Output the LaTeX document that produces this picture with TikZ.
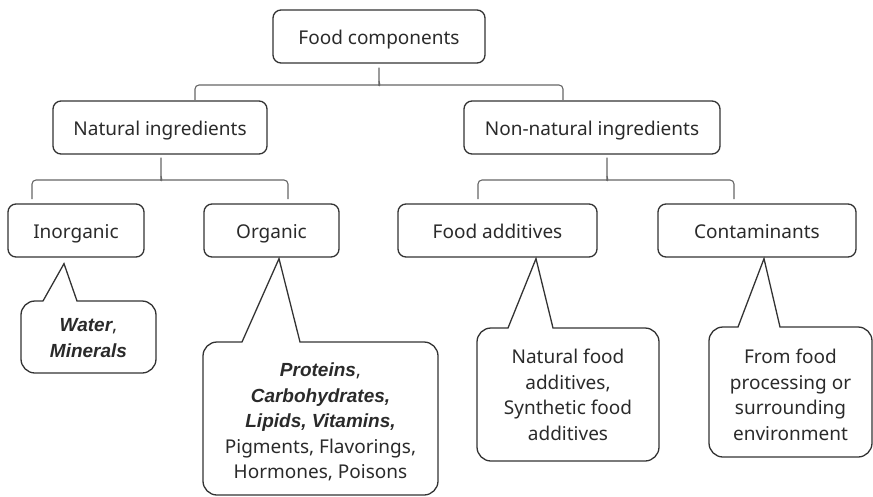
\documentclass[tikz,border=0pt]{standalone}
\usepackage{fontspec}
\setmainfont{Noto Sans}
\newfontfamily\bifont{Liberation Sans}
\usetikzlibrary{calc}
\definecolor{ln}{HTML}{333333}
\definecolor{br}{HTML}{666666}
\definecolor{tx}{HTML}{2A2A2A}
\tikzset{
  box/.style={draw=ln, line width=1.3pt, rounded corners=8pt, rectangle, inner sep=0pt,
    minimum height=53pt, text height=18pt, text depth=2pt, text=tx, font=\fontsize{19}{25.5}\selectfont},
  ctext/.style={align=center, text=tx, inner sep=0pt, font=\fontsize{19}{25.5}\selectfont},
  co/.style={draw=ln, line width=1.3pt},
  brc/.style={draw=br, line width=1.1pt, rounded corners=4pt}
}
\newcommand\bi[1]{{\bifont\bfseries\itshape #1}}
\newcommand\drawcallout[7]{%
  \draw[co] (#1,{(#2+#4)/2}) [rounded corners=14pt] -- (#1,#2) [sharp corners] -- (#5,#2) -- (#7) -- (#6,#2) [rounded corners=14pt] -- (#3,#2) -- (#3,#4) -- (#1,#4) -- cycle;}
\newcommand\drawbrace[6]{% stub top, xl, xr, ymid, ybot, stub x
  \draw[brc] (#2,#5) -- (#2,#4) -- ({#6-4},#4) to[out=0,in=-90] (#6,{#4-4}) -- (#1);
  \draw[brc] (#3,#5) -- (#3,#4) -- ({#6+4},#4) to[out=180,in=-90] (#6,{#4-4});}
\begin{document}
\begin{tikzpicture}[x=1pt,y=-1pt]
\useasboundingbox (0,0) rectangle (873,496);
% tree boxes
\node[box, minimum width=212pt] (root) at (379,36.5) {Food components};
\node[box, minimum width=214pt] (nat) at (160,127.5) {Natural ingredients};
\node[box, minimum width=256pt] (non) at (592,127.5) {Non-natural ingredients};
\node[box, minimum width=136pt] (inorg) at (76,230.5) {Inorganic};
\node[box, minimum width=135pt] (org) at (271.5,230.5) {Organic};
\node[box, minimum width=199pt] (add) at (497.5,230.5) {Food additives};
\node[box, minimum width=198pt] (cont) at (757,230.5) {Contaminants};
% braces
\coordinate (s1) at ($(root.south)+(0,4)$);
\coordinate (s2) at ($(nat.south)+(1,3)$);
\coordinate (s3) at ($(non.south)+(15,3)$);
\drawbrace{s1}{195}{563}{85}{100}{379}
\drawbrace{s2}{32}{288}{180}{199}{161}
\drawbrace{s3}{478}{734}{180}{199}{607}
% callout tips
\coordinate (t1) at ($(inorg.south)+(-12,6)$);
\coordinate (t2) at ($(org.south)+(7.5,1)$);
\coordinate (t3) at ($(add.south)+(38.5,1)$);
\coordinate (t4) at ($(cont.south)+(7,1)$);
\drawcallout{21}{301}{156}{373}{43}{77}{t1}
\drawcallout{203}{342}{438}{495}{242}{300}{t2}
\drawcallout{477}{328}{659}{461}{508}{553}{t3}
\drawcallout{709}{327}{872}{457}{738}{780}{t4}
% callout texts
\node[ctext] (c1) at (88.5,338) {\bi{Water},\\\bi{Minerals}};
\node[ctext] (c2) at (320.5,422) {\bi{Proteins},\\\bi{Carbohydrates,}\\\bi{Lipids, Vitamins,}\\Pigments, Flavorings,\\Hormones, Poisons};
\node[ctext] (c3) at (568,395) {Natural food\\additives,\\Synthetic food\\additives};
\node[ctext] (c4) at (790.5,395) {From food\\processing or\\surrounding\\environment};
\end{tikzpicture}
\end{document}
